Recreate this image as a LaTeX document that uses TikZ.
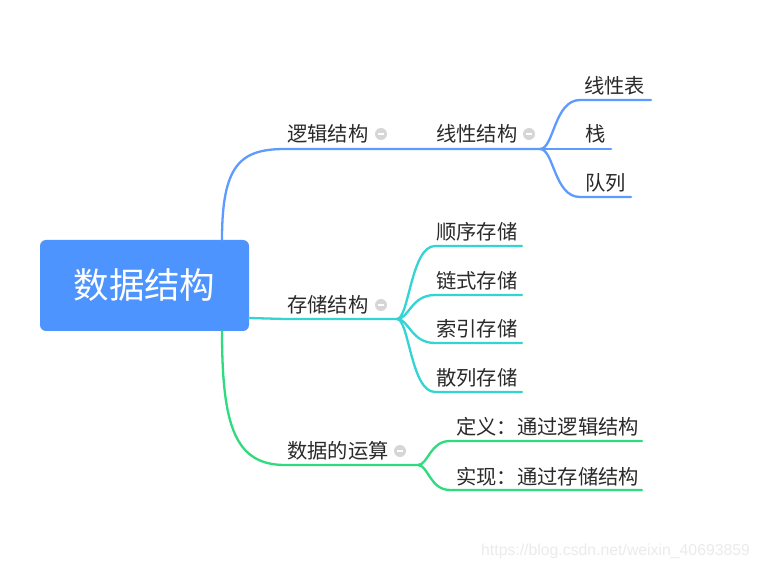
\documentclass[tikz,border=0pt]{standalone}
\usepackage{fontspec}
\setmainfont{Noto Sans CJK SC}
\newfontfamily\wmfont{Liberation Sans}
\definecolor{rootblue}{HTML}{4D94FF}
\definecolor{lblue}{HTML}{5C9CFF}
\definecolor{lcyan}{HTML}{33D4D4}
\definecolor{lgreen}{HTML}{2EDB7E}
\definecolor{txt}{HTML}{2A2A2A}
\definecolor{icongray}{HTML}{D6D6D9}
\begin{document}
\begin{tikzpicture}[x=1pt,y=-1pt,
  lab/.style={anchor=base west, inner sep=0pt, text=txt, font=\fontsize{20.3}{22}\selectfont},
  conn/.style={line width=2.3pt, line cap=round},
  bl/.style={conn, draw=lblue},
  cy/.style={conn, draw=lcyan},
  gr/.style={conn, draw=lgreen},
  icon/.style={circle, fill=icongray, minimum size=12pt, inner sep=0pt,
    path picture={\draw[white, line width=1.8pt] ([xshift=-3pt]path picture bounding box.center) -- ([xshift=3pt]path picture bounding box.center);}}
]
\useasboundingbox (0,0) rectangle (761,569);
\fill[white] (0,0) rectangle (761,569);

% root
\node[fill=rootblue, rounded corners=6pt, minimum width=209pt, minimum height=91pt, inner sep=0pt,
  text=white, font=\fontsize{35.5}{40}\selectfont] (root) at (144.5,285.5) {数据结构};

% coordinates
\coordinate (b0) at (222,240);
\coordinate (b1) at (285,149);
\coordinate (bf) at (540,149);
\coordinate (c0) at (249,318);
\coordinate (c1) at (285,319);
\coordinate (cf) at (397,319);
\coordinate (g0) at (222,331);
\coordinate (g1) at (285,465);
\coordinate (gf) at (418,465);

% blue branch
\draw[bl] (b0) .. controls +(0,-75) and +(-45,0) .. (b1) -- (bf);
\coordinate (b11s) at (580,100); \coordinate (b11e) at (651,100);
\coordinate (b12s) at (580,149); \coordinate (b12e) at (611,149);
\coordinate (b13s) at (580,197); \coordinate (b13e) at (631,197);
\draw[bl] (bf) .. controls +(14,0) and +(-26,0) .. (b11s) -- (b11e);
\draw[bl] (bf) -- (b12s) -- (b12e);
\draw[bl] (bf) .. controls +(14,0) and +(-26,0) .. (b13s) -- (b13e);

% cyan branch
\draw[cy] (c0) .. controls +(18,0) and +(-18,0) .. (c1) -- (cf);
\coordinate (c11s) at (435,246); \coordinate (c11e) at (522,246);
\coordinate (c12s) at (435,295); \coordinate (c12e) at (522,295);
\coordinate (c13s) at (435,343); \coordinate (c13e) at (522,343);
\coordinate (c14s) at (435,392); \coordinate (c14e) at (522,392);
\foreach \i in {1,2,3,4}{
  \draw[cy] (cf) .. controls +(12,0) and +(-24,0) .. (c1\i s) -- (c1\i e);
}

% green branch
\draw[gr] (g0) .. controls +(0,95) and +(-50,0) .. (g1) -- (gf);
\coordinate (g11s) at (450,441); \coordinate (g11e) at (642,441);
\coordinate (g12s) at (450,490); \coordinate (g12e) at (642,490);
\draw[gr] (gf) .. controls +(10,0) and +(-20,0) .. (g11s) -- (g11e);
\draw[gr] (gf) .. controls +(10,0) and +(-20,0) .. (g12s) -- (g12e);

% labels
\node[lab] (n1) at (287,142) {逻辑结构};
\node[lab] (n11) at (436,142) {线性结构};
\node[lab] (n111) at (584,94) {线性表};
\node[lab] (n112) at (585,142) {栈};
\node[lab] (n113) at (585,191) {队列};
\node[lab] (n2) at (287,313) {存储结构};
\node[lab] (n21) at (436,240) {顺序存储};
\node[lab] (n22) at (436,289) {链式存储};
\node[lab] (n23) at (436,337) {索引存储};
\node[lab] (n24) at (436,386) {散列存储};
\node[lab] (n3) at (287,459) {数据的运算};
\node[lab] (n31) at (456,435) {定义：通过逻辑结构};
\node[lab] (n32) at (456,484) {实现：通过存储结构};

% icons
\node[icon] (i1) at (381,134) {};
\node[icon] (i11) at (529,134) {};
\node[icon] (i2) at (381,305) {};
\node[icon] (i3) at (400,451) {};

% watermark
\node[anchor=base west, inner sep=0pt, text=black!8, font=\wmfont\fontsize{15.8}{18}\selectfont] (wm) at (481,555) {https://blog.csdn.net/weixin\_40693859};
\end{tikzpicture}
\end{document}
